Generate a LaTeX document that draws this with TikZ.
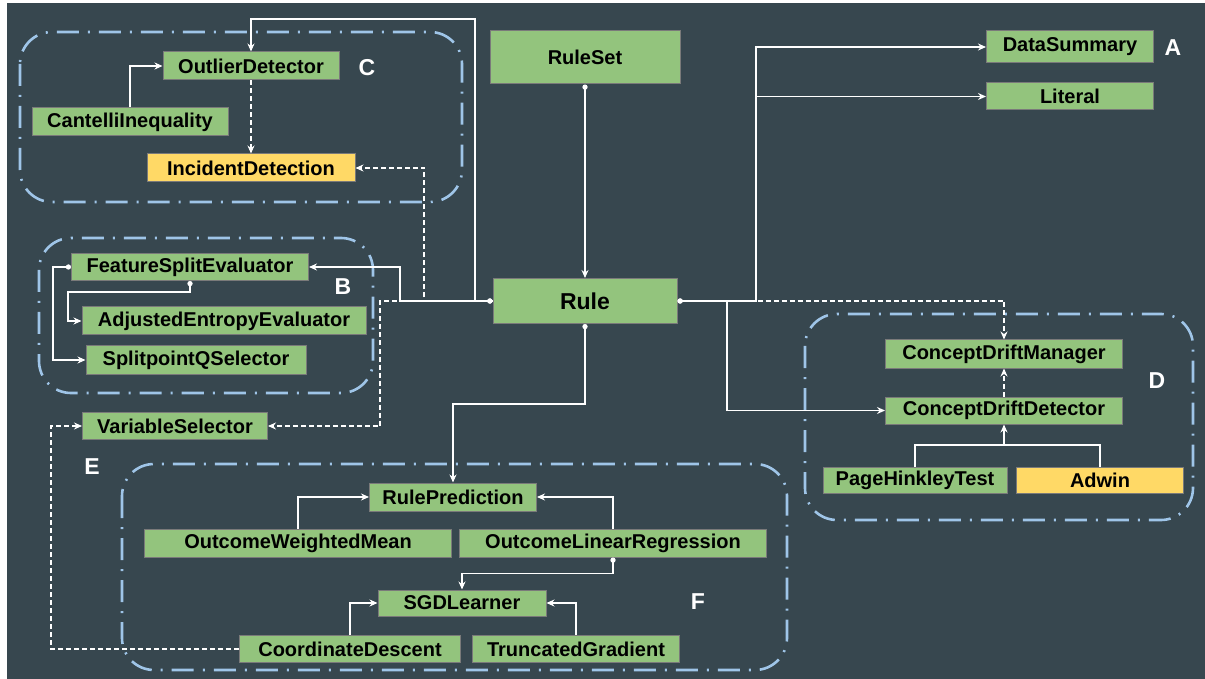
\documentclass[tikz,border=0pt]{standalone}
\usepackage{fontspec}
\setmainfont{Liberation Sans}
\usetikzlibrary{arrows.meta}
\definecolor{slate}{HTML}{37474F}
\definecolor{boxgreen}{HTML}{93C47D}
\definecolor{boxyellow}{HTML}{FFD966}
\definecolor{groupblue}{HTML}{9FC5E8}
\definecolor{boxline}{HTML}{7A7A7A}
\tikzset{
  cls/.style={draw=boxline, line width=0.5pt, fill=boxgreen, inner sep=0pt, font=\bfseries\fontsize{10}{12}\selectfont, text=black},
  todo/.style={cls, fill=boxyellow},
  grp/.style={draw=groupblue, line width=1.3pt, rounded corners=16pt, dash pattern=on 11pt off 4.5pt on 1pt off 4.5pt},
  tag/.style={text=white, font=\bfseries\fontsize{11.5}{13}\selectfont},
  link/.style={draw=white, line width=0.55pt, -{Stealth[length=4pt,width=3.5pt]}},
  has/.style={link, {Circle[length=2.6pt]}-{Stealth[length=4pt,width=3.5pt]}},
  dlink/.style={link, dashed, dash pattern=on 2.5pt off 1.5pt}
}
\begin{document}
\begin{tikzpicture}[x=0.5pt, y=-0.5pt]
\useasboundingbox (0,0) rectangle (1205,679);
\fill[white] (0,0) rectangle (1205,679);
\fill[slate] (7,3) rectangle (1205,679);

\draw[grp] (20,32) rectangle (462,202);
\draw[grp] (39,238) rectangle (373,393);
\draw[grp] (805,314) rectangle (1193,520);
\draw[grp] (122,464) rectangle (787,670);

\node[cls, minimum width=88pt, minimum height=14pt] (od) at (251,66) {OutlierDetector};
\node[cls, minimum width=98pt, minimum height=14pt] (ci) at (130,122) {CantelliInequality};
\node[todo, minimum width=104pt, minimum height=14pt] (id) at (251,168) {IncidentDetection};
\node[cls, minimum width=118.5pt, minimum height=13.5pt] (fse) at (190,267) {FeatureSplitEvaluator};
\node[cls, minimum width=142pt, minimum height=14pt] (aee) at (224,321) {AdjustedEntropyEvaluator};
\node[cls, minimum width=110pt, minimum height=14pt] (sqs) at (196,360) {SplitpointQSelector};
\node[cls, minimum width=92.5pt, minimum height=13.5pt] (vs) at (175,426) {VariableSelector};
\node[cls, minimum width=95pt, minimum height=26.5pt] (ruleset) at (585,57.5) {RuleSet};
\node[cls, minimum width=92pt, minimum height=22.5pt, font=\bfseries\fontsize{11.5}{13}\selectfont] (rule) at (585,301) {Rule};
\node[cls, minimum width=83.5pt, minimum height=16pt] (ds) at (1070,47) {DataSummary};
\node[cls, minimum width=83.5pt, minimum height=13.5pt] (lit) at (1070,96.5) {Literal};
\node[cls, minimum width=118.5pt, minimum height=14pt] (cdm) at (1004,354) {ConceptDriftManager};
\node[cls, minimum width=118.5pt, minimum height=13.5pt] (cdd) at (1004,410.5) {ConceptDriftDetector};
\node[cls, minimum width=92pt, minimum height=13pt] (pht) at (915,480) {PageHinkleyTest};
\node[todo, minimum width=83.5pt, minimum height=13pt] (adw) at (1100,480) {Adwin};
\node[cls, minimum width=83.5pt, minimum height=14pt] (rp) at (453,497) {RulePrediction};
\node[cls, minimum width=153.5pt, minimum height=14pt] (owm) at (298,543) {OutcomeWeightedMean};
\node[cls, minimum width=153.5pt, minimum height=14pt] (olr) at (613,543) {OutcomeLinearRegression};
\node[cls, minimum width=84pt, minimum height=13pt] (sgd) at (462,603) {SGDLearner};
\node[cls, minimum width=110.5pt, minimum height=13.5pt] (cd) at (350,649) {CoordinateDescent};
\node[cls, minimum width=103.5pt, minimum height=13.5pt] (tg) at (576,649) {TruncatedGradient};

\node[tag] (tA) at (1173,48) {A};
\node[tag] (tB) at (343,287) {B};
\node[tag] (tC) at (367,68) {C};
\node[tag] (tD) at (1157,381) {D};
\node[tag] (tE) at (92,467) {E};
\node[tag] (tF) at (698,602) {F};

\draw[dlink] (rule.west) -| (424,168) -- (id.east);
\draw[dlink] (rule.west) -| (380,426) -- (vs.east);
\draw[dlink] (rule.east) -| (cdm.north);
\draw[dlink] (od.south) -- (id.north);
\draw[dlink] (cdd.north) -- (cdm.south);
\draw[dlink] (cd.west) -| (51,426) -- (vs.west);

\draw[has] (rule.west) -| (475,19) -| (od.north);
\draw[has] (rule.west) -| (400,267) -- (fse.east);
\draw[link] (ci.north) |- (od.west);
\draw[has] (fse.south) -- ++(0,11) -| (68,321) -- (aee.west);
\draw[has] (fse.west) -| (53,360) -- (sqs.west);
\draw[has] (ruleset.south) -- (rule.north);
\draw[has] (rule.east) -| (756,47) -- (ds.west);
\draw[link] (756,301) |- (lit.west);
\draw[has] (rule.east) -| (727,410.5) -- (cdd.west);
\draw[white, line width=0.55pt] (pht.north) |- (1100,445) -- (adw.north);
\coordinate (pj) at (1004,445);
\draw[link] (pj) -- (cdd.south);
\draw[has] (rule.south) -- (585,404) -| (rp.north);
\draw[link] (owm.north) |- (rp.west);
\draw[link] (olr.north) |- (rp.east);
\draw[has] (olr.south) -- ++(0,16) -| (sgd.north);
\draw[link] (cd.north) |- (sgd.west);
\draw[link] (tg.north) |- (sgd.east);
\end{tikzpicture}
\end{document}
